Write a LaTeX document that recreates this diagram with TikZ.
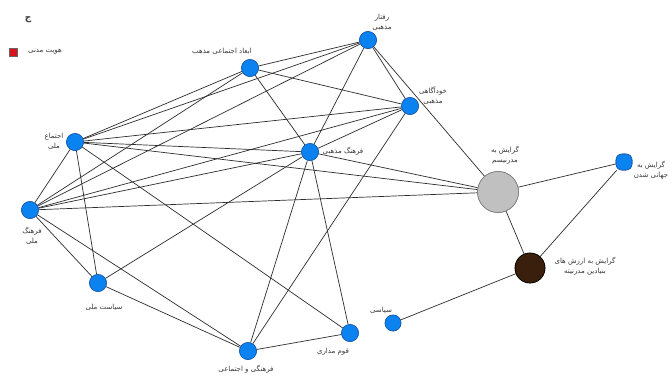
\documentclass[tikz,border=0pt]{standalone}
\usepackage{fontspec}
\newfontfamily\fa[Script=Arabic]{DejaVu Sans}
\TeXXeTstate=1
\newcommand{\rtltxt}[1]{\beginR #1\endR}
\definecolor{nodeblue}{RGB}{10,130,240}
\definecolor{nodeedge}{RGB}{30,90,170}
\definecolor{grayfill}{RGB}{192,192,192}
\definecolor{grayedge}{RGB}{120,120,120}
\definecolor{brownfill}{RGB}{58,32,12}
\definecolor{linecol}{RGB}{45,45,45}
\definecolor{txtcol}{RGB}{55,55,55}
\definecolor{legred}{RGB}{215,20,30}
\begin{document}
\begin{tikzpicture}[x=1pt,y=-1pt,
  bnode/.style={circle,draw=nodeedge,line width=0.6pt,fill=nodeblue,minimum size=17pt,inner sep=0pt},
  gnode/.style={circle,draw=grayedge,line width=0.6pt,fill=grayfill,minimum size=41pt,inner sep=0pt},
  brnode/.style={circle,draw=black,line width=0.6pt,fill=brownfill,minimum size=30pt,inner sep=0pt},
  hnode/.style={rectangle,rounded corners=6pt,draw=nodeedge,line width=0.6pt,fill=nodeblue,minimum size=16pt,inner sep=0pt},
  lbl/.style={font=\fa\fontsize{7}{10}\selectfont,text=txtcol,align=center,inner sep=0pt},
  edge/.style={draw=linecol,line width=0.7pt}]
\useasboundingbox (0,0) rectangle (672,376);
\fill[white] (0,0) rectangle (672,376);
% nodes
\node[bnode] (A) at (368,40) {};
\node[bnode] (B) at (250,68) {};
\node[bnode] (C) at (410,106) {};
\node[bnode] (D) at (75,142) {};
\node[bnode] (E) at (310,152) {};
\node[bnode] (F) at (30,210) {};
\node[gnode] (G) at (498,192) {};
\node[hnode] (H) at (624,162) {};
\node[brnode] (I) at (530,268) {};
\node[bnode,minimum size=16pt] (J) at (393,323) {};
\node[bnode] (K) at (98,283) {};
\node[bnode] (L) at (248,351) {};
\node[bnode] (M) at (350,333) {};
% edges
\foreach \a/\b in {A/B,A/C,A/E,A/G,A/D,A/F,
  B/C,B/E,B/D,B/F,
  C/E,C/D,C/F,C/L,
  D/E,D/G,D/F,D/K,D/M,
  E/F,E/G,E/K,E/L,E/M,
  F/G,F/K,F/L,
  G/H,G/I,H/I,I/J,
  K/L,L/M}
  \draw[edge] (\a) -- (\b);
% redraw nodes on top of the connectors
\node[bnode] at (A) {};
\node[bnode] at (B) {};
\node[bnode] at (C) {};
\node[bnode] at (D) {};
\node[bnode] at (E) {};
\node[bnode] at (F) {};
\node[gnode] at (G) {};
\node[hnode] at (H) {};
\node[brnode] at (I) {};
\node[bnode,minimum size=16pt] at (J) {};
\node[bnode] at (K) {};
\node[bnode] at (L) {};
\node[bnode] at (M) {};
% labels
\node[lbl] (tj) at (28,20) {\fontsize{9}{10}\selectfont\bfseries\rtltxt{ج}};
\node[fill=legred,draw=black!60,line width=0.4pt,minimum size=8pt,inner sep=0pt] (leg) at (13,52) {};
\node[lbl] (tleg) at (45,52) {\rtltxt{هویت مدنی}};
\node[lbl] (lA) at (382,22) {\rtltxt{رفتار}\\\rtltxt{مذهبی}};
\node[lbl] (lB) at (222,51) {\rtltxt{ابعاد اجتماعی مذهب}};
\node[lbl] (lC) at (433,96) {\rtltxt{خودآگاهی}\\\rtltxt{مذهبی}};
\node[lbl] (lD) at (54,141) {\rtltxt{اجتماع}\\\rtltxt{ملی}};
\node[lbl] (lE) at (343,151) {\rtltxt{فرهنگ مذهبی}};
\node[lbl] (lF) at (32,236) {\rtltxt{فرهنگ}\\\rtltxt{ملی}};
\node[lbl] (lG) at (505,155) {\rtltxt{گرایش به}\\\rtltxt{مدرنیسم}};
\node[lbl] (lH) at (651,170) {\rtltxt{گرایش به}\\\rtltxt{جهانی شدن}};
\node[lbl] (lI) at (585,266) {\rtltxt{گرایش به ارزش های}\\\rtltxt{بنیادین مدرنیته}};
\node[lbl] (lJ) at (381,310) {\rtltxt{سیاسی}};
\node[lbl] (lK) at (104,307) {\rtltxt{سیاست ملی}};
\node[lbl] (lL) at (246,369) {\rtltxt{فرهنگی و اجتماعی}};
\node[lbl] (lM) at (333,352) {\rtltxt{قوم مداری}};
\end{tikzpicture}
\end{document}
